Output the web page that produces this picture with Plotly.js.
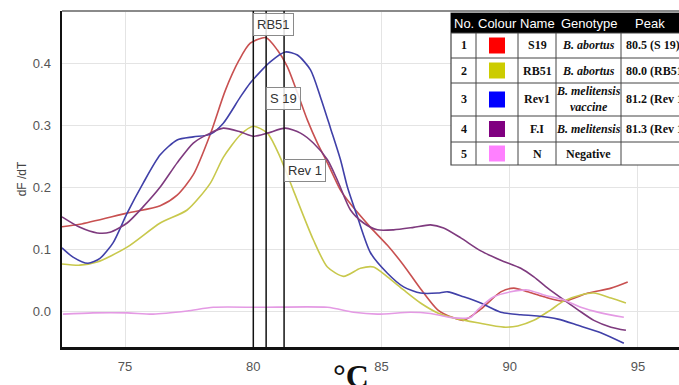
<!DOCTYPE html>
<html><head><meta charset="utf-8">
<script src="https://cdn.plot.ly/plotly-3.0.1.min.js"></script>
<style>html,body{margin:0;padding:0;background:#fff;} #chart{width:679px;height:385px;}</style>
</head><body><div id="chart"></div>
<script>
// ---- data ----
const s19T = [72.54,73.24,75.08,76.37,77.03,77.66,78.32,78.91,79.45,79.88,80.5,80.94,81.33,81.72,82.11,82.5,82.89,83.4,83.67,84.57,85.23,85.86,86.52,87.19,87.81,88.2,88.87,89.65,90.16,90.7,91.33,92.1,93.05,93.95,94.6];
const s19Y = [0.136,0.140,0.158,0.170,0.187,0.220,0.285,0.356,0.405,0.432,0.441,0.421,0.394,0.352,0.308,0.271,0.239,0.195,0.179,0.135,0.106,0.074,0.036,0.002,-0.011,-0.015,0.003,0.031,0.037,0.031,0.023,0.016,0.029,0.037,0.047];

const rb51T = [72.54,73.24,73.91,75.08,76.37,77.42,78.32,78.83,79.49,80.0,80.55,81.05,81.56,82.34,82.89,83.52,84.18,84.69,85.23,85.86,86.52,87.19,87.81,88.75,89.77,90.31,90.94,91.6,92.1,92.77,93.28,93.95,94.53];
const rb51Y = [0.076,0.074,0.079,0.103,0.142,0.163,0.206,0.248,0.284,0.298,0.287,0.248,0.195,0.115,0.071,0.056,0.069,0.071,0.055,0.034,0.013,-0.003,-0.011,-0.019,-0.026,-0.024,-0.015,0.002,0.016,0.026,0.029,0.021,0.013];

const rev1T = [72.54,72.97,73.55,74.02,74.53,75.08,75.7,76.37,77.03,77.66,78.32,78.83,79.49,79.88,80.66,81.25,81.72,82.23,82.62,83.01,83.4,83.67,84.06,84.57,85.23,85.86,86.52,87.19,87.58,88.2,88.87,89.65,90.43,91.09,91.88,92.66,93.55,94.45];
const rev1Y = [0.102,0.087,0.077,0.085,0.110,0.158,0.206,0.252,0.276,0.281,0.285,0.303,0.345,0.368,0.402,0.418,0.413,0.389,0.345,0.295,0.244,0.200,0.152,0.094,0.061,0.039,0.029,0.029,0.031,0.023,0.013,-0.002,-0.006,-0.008,-0.013,-0.023,-0.035,-0.052];

const fiT = [72.54,73.24,73.91,74.41,75.08,75.7,76.37,77.03,77.66,78.32,78.83,79.49,80.0,80.55,81.25,81.84,82.34,82.89,83.28,83.79,84.3,84.84,85.47,86.25,86.91,87.42,88.09,88.87,89.65,90.43,90.94,91.48,92.11,92.66,93.28,93.95,94.53];
const fiY = [0.152,0.135,0.126,0.127,0.142,0.168,0.200,0.239,0.271,0.287,0.295,0.289,0.282,0.287,0.295,0.287,0.271,0.244,0.211,0.163,0.142,0.131,0.131,0.135,0.139,0.134,0.118,0.097,0.082,0.069,0.055,0.037,0.018,0.002,-0.015,-0.026,-0.031];

const negT = [72.58,73.75,75.08,76.09,77.42,78.44,80.27,82.89,83.91,84.84,86.13,86.91,87.81,88.48,88.75,89.38,90.04,90.7,91.33,92.11,92.77,93.55,94.45];
const negY = [-0.005,-0.003,-0.003,-0.005,0.0,0.006,0.006,0.006,-0.002,-0.005,-0.002,-0.004,-0.011,-0.010,0.002,0.023,0.031,0.034,0.026,0.018,0.006,-0.003,-0.010];

const xTicks = [75,80,85,90,95];
const yTicks = [0.0,0.1,0.2,0.3,0.4];

const peakLabels = ['RB51','S 19','Rev 1'];
const peakTemps = [80.0, 80.5, 81.2];
const peakLabelY = [0.462, 0.343, 0.227];

const tableHeader = ['No.','Colour','Name','Genotype','Peak'];
const tableNo = ['1','2','3','4','5'];
const tableColours = ['#FF0000','#CCCC00','#0000FF','#800080','#FF80FF'];
const tableNames = ['S19','RB51','Rev1','F.I','N'];
const tableGenotypes = ['<i>B. abortus</i>','<i>B. abortus</i>','<i>B. melitensis</i><br><i>vaccine</i>','<i>B. melitensis</i>','Negative'];
const tablePeaks = ['80.5 (S 19)','80.0 (RB51)','81.2 (Rev 1)','81.3 (Rev 1)',''];

// ---- styling ----
const lineColours = ['#C85050','#C8C84C','#4040A8','#7E3A7E','#E49AE4'];
const W = 679, H = 385, ML = 62, MR = 0, MT = 11, MB = 38;
const px = v => (v - ML) / (W - ML - MR);
const py = v => (H - MB - v) / (H - MT - MB);

const series = [[s19T,s19Y],[rb51T,rb51Y],[rev1T,rev1Y],[fiT,fiY],[negT,negY]];
const traces = series.map((s,i) => ({
  x: s[0], y: s[1], type: 'scatter', mode: 'lines', name: tableNames[i],
  line: {color: lineColours[i], width: 1.6, shape: 'spline', smoothing: 0.7},
  hoverinfo: 'skip'
}));

const shapes = [];
const annotations = [];

// top frame line
shapes.push({type:'line', xref:'paper', yref:'paper', x0:0, x1:1, y0:1, y1:1, line:{color:'#8a8a8a', width:2}});

// peak vertical lines + labels
peakTemps.forEach((t,i) => {
  shapes.push({type:'line', xref:'x', yref:'paper', x0:t, x1:t, y0:0, y1:1, line:{color:'#111', width:1.5}});
  annotations.push({xref:'x', yref:'y', x:t, y:peakLabelY[i], xanchor:'left', yanchor:'middle', showarrow:false,
    text: peakLabels[i], font:{family:'Liberation Sans, Arial, sans-serif', size:13, color:'#333'},
    bgcolor:'rgba(255,255,255,0.85)', bordercolor:'#8a8a8a', borderwidth:1, borderpad:3});
});

// table
const colEdges = [451, 476, 518, 556, 621, 760];
const rowEdges = [13, 33, 58, 83, 116, 142, 165];
shapes.push({type:'rect', xref:'paper', yref:'paper', x0:px(451), x1:px(760), y0:py(165), y1:py(13), fillcolor:'#fff', line:{color:'#444', width:1.2}});
shapes.push({type:'rect', xref:'paper', yref:'paper', x0:px(451), x1:px(760), y0:py(33), y1:py(13), fillcolor:'#000', line:{width:0}});
colEdges.slice(1,-1).forEach(c => shapes.push({type:'line', xref:'paper', yref:'paper', x0:px(c), x1:px(c), y0:py(165), y1:py(33), line:{color:'#444', width:1}}));
rowEdges.slice(1,-1).forEach(r => shapes.push({type:'line', xref:'paper', yref:'paper', x0:px(451), x1:px(760), y0:py(r), y1:py(r), line:{color:'#444', width:1}}));

const colCentres = [463.5, 497, 537, 588.5, 650];
tableHeader.forEach((h,j) => annotations.push({xref:'paper', yref:'paper', x:px(colCentres[j]), y:py(23.5), showarrow:false,
  text:h, font:{family:'Liberation Sans, Arial, sans-serif', size:13, color:'#fff'}, xanchor:'center', yanchor:'middle'}));

const serif = 'Liberation Serif, Times New Roman, serif';
for (let i = 0; i < tableNo.length; i++) {
  const yc = (rowEdges[i+1] + rowEdges[i+2]) / 2;
  const f = {family: serif, size: 12, color:'#111', weight:'bold'};
  const base = {xref:'paper', yref:'paper', showarrow:false, xanchor:'center', yanchor:'middle', y:py(yc)};
  annotations.push(Object.assign({}, base, {x:px(463.5), text:tableNo[i], font:f}));
  shapes.push({type:'rect', xref:'paper', yref:'paper', x0:px(489), x1:px(505), y0:py(yc+8), y1:py(yc-8), fillcolor:tableColours[i], line:{width:0}});
  annotations.push(Object.assign({}, base, {x:px(537), text:tableNames[i], font:f}));
  annotations.push(Object.assign({}, base, {x:px(588.5), text:tableGenotypes[i], font:{family: serif, size: 12, color:'#111', weight:'bold'}}));
  annotations.push(Object.assign({}, base, {x:px(624), xanchor:'left', text:tablePeaks[i], font:f}));
}

// x-axis unit label
annotations.push({xref:'x', yref:'paper', x:83.8, y:py(356), xanchor:'center', yanchor:'top', showarrow:false,
  text:'°C', font:{family: serif, size: 32, color:'#111', weight:'bold'}});

const layout = {
  width: W, height: H,
  margin: {l: ML, r: MR, t: MT, b: MB, pad: 0},
  paper_bgcolor: '#fff', plot_bgcolor: '#fff',
  showlegend: false,
  xaxis: {
    range: [72.54, 96.6], tickvals: xTicks, ticktext: xTicks.map(String),
    showgrid: true, gridcolor: '#e4e4e4', gridwidth: 1, zeroline: false,
    showline: true, linecolor: '#111', linewidth: 3, ticks: '', ticklabelstandoff: 5,
    tickfont: {family: 'Liberation Sans, Arial, sans-serif', size: 13, color: '#555'},
    fixedrange: true
  },
  yaxis: {
    range: [-0.058, 0.484], tickvals: yTicks, ticktext: yTicks.map(v => v.toFixed(1)),
    showgrid: true, gridcolor: '#e4e4e4', gridwidth: 1, zeroline: false,
    showline: true, linecolor: '#111', linewidth: 2.5, ticks: '', ticklabelstandoff: 6,
    tickfont: {family: 'Liberation Sans, Arial, sans-serif', size: 13, color: '#555'},
    title: {text: 'dF /dT', font: {family: 'Liberation Sans, Arial, sans-serif', size: 12, color: '#444'}, standoff: 4},
    fixedrange: true
  },
  shapes: shapes,
  annotations: annotations
};

Plotly.newPlot('chart', traces, layout, {displayModeBar: false, staticPlot: true});
</script>
</body></html>
